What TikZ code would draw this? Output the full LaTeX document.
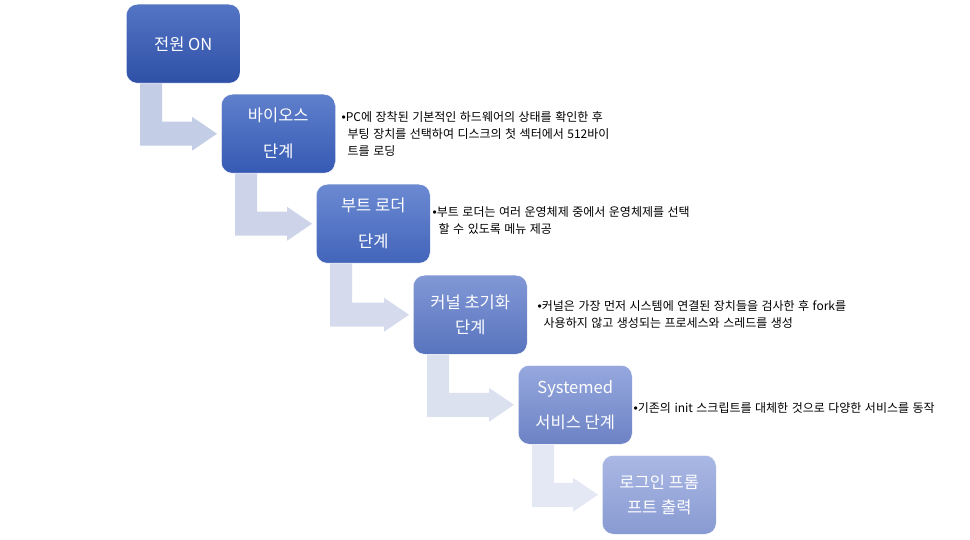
\documentclass[tikz,border=0pt]{standalone}
\usepackage{fontspec}
\setmainfont{Noto Sans CJK KR}
\newfontfamily\notefont[WordSpace=1.3]{Noto Sans CJK KR}
\newfontfamily\bulletfont{Liberation Sans}
\usetikzlibrary{calc,positioning}

\definecolor{topA}{RGB}{84,116,196}   \definecolor{botA}{RGB}{46,80,166}
\definecolor{topB}{RGB}{96,128,204}   \definecolor{botB}{RGB}{54,90,180}
\definecolor{topC}{RGB}{108,138,210}  \definecolor{botC}{RGB}{66,100,186}
\definecolor{topD}{RGB}{130,152,214}  \definecolor{botD}{RGB}{88,116,190}
\definecolor{topE}{RGB}{150,168,222}  \definecolor{botE}{RGB}{108,130,196}
\definecolor{topF}{RGB}{170,184,228}  \definecolor{botF}{RGB}{136,154,210}
\definecolor{arrA}{RGB}{196,205,230}
\definecolor{arrB}{RGB}{205,212,233}
\definecolor{arrC}{RGB}{213,219,237}
\definecolor{arrD}{RGB}{220,225,240}
\definecolor{arrE}{RGB}{228,232,244}

\tikzset{
  stage/.style={rounded corners=11pt, minimum width=114pt, minimum height=79pt,
    inner sep=0pt, text=white, align=center, draw=white, line width=0.5pt,
    font=\fontsize{16.5}{25}\selectfont, anchor=north west},
  note/.style={inner sep=0pt, align=left, anchor=west,
    font=\notefont\fontsize{12}{17}\selectfont},
}
\newcommand{\bul}{{\bulletfont\textbullet}}
\newcommand{\hang}{\hspace*{6pt}}
% bent arrow from under one stage to the left side of the next
\newcommand{\bentarrow}[3]{%
  \fill[#3] let \p1=(#1.south west), \p2=(#2.west) in
    (\x1+14pt,\y1) -- (\x1+36pt,\y1) -- (\x1+36pt,\y2+12pt)
    -- (\x2-29pt,\y2+12pt) -- (\x2-29pt,\y2+17pt) -- (\x2-4pt,\y2)
    -- (\x2-29pt,\y2-17pt) -- (\x2-29pt,\y2-12pt) -- (\x1+14pt,\y2-12pt) -- cycle;
}

\begin{document}
\begin{tikzpicture}[x=1pt,y=1pt]
  \useasboundingbox (0,0) rectangle (970,-540);

  \node[stage, top color=topA, bottom color=botA] (b1) at (126,-4) {전원 ON};
  \node[stage, top color=topB, bottom color=botB] (b2) at (221,-94) {바이오스\\[11pt]단계};
  \node[stage, top color=topC, bottom color=botC] (b3) at (316,-184) {부트 로더\\[11pt]단계};
  \node[stage, top color=topD, bottom color=botD] (b4) at (413,-275) {커널 초기화\\단계};
  \node[stage, top color=topE, bottom color=botE] (b5) at (518,-365) {Systemed\\[10pt]서비스 단계};
  \node[stage, top color=topF, bottom color=botF] (b6) at (602,-455) {로그인 프롬\\프트 출력};

  \bentarrow{b1}{b2}{arrA}
  \bentarrow{b2}{b3}{arrB}
  \bentarrow{b3}{b4}{arrC}
  \bentarrow{b4}{b5}{arrD}
  \bentarrow{b5}{b6}{arrE}

  \node[note, right=6pt of b2] (n2) {\bul PC에 장착된 기본적인 하드웨어의 상태를 확인한 후\\
    \hang 부팅 장치를 선택하여 디스크의 첫 섹터에서 512바이\\
    \hang 트를 로딩};
  \node[note, right=2pt of b3, yshift=3pt] (n3) {\bul 부트 로더는 여러 운영체제 중에서 운영체제를 선택\\
    \hang 할 수 있도록 메뉴 제공};
  \node[note, right=10pt of b4] (n4) {\bul 커널은 가장 먼저 시스템에 연결된 장치들을 검사한 후 fork를\\
    \hang 사용하지 않고 생성되는 프로세스와 스레드를 생성};
  \node[note, right=1pt of b5, yshift=-3pt] (n5) {\bul 기존의 init 스크립트를 대체한 것으로 다양한 서비스를 동작};
\end{tikzpicture}
\end{document}
